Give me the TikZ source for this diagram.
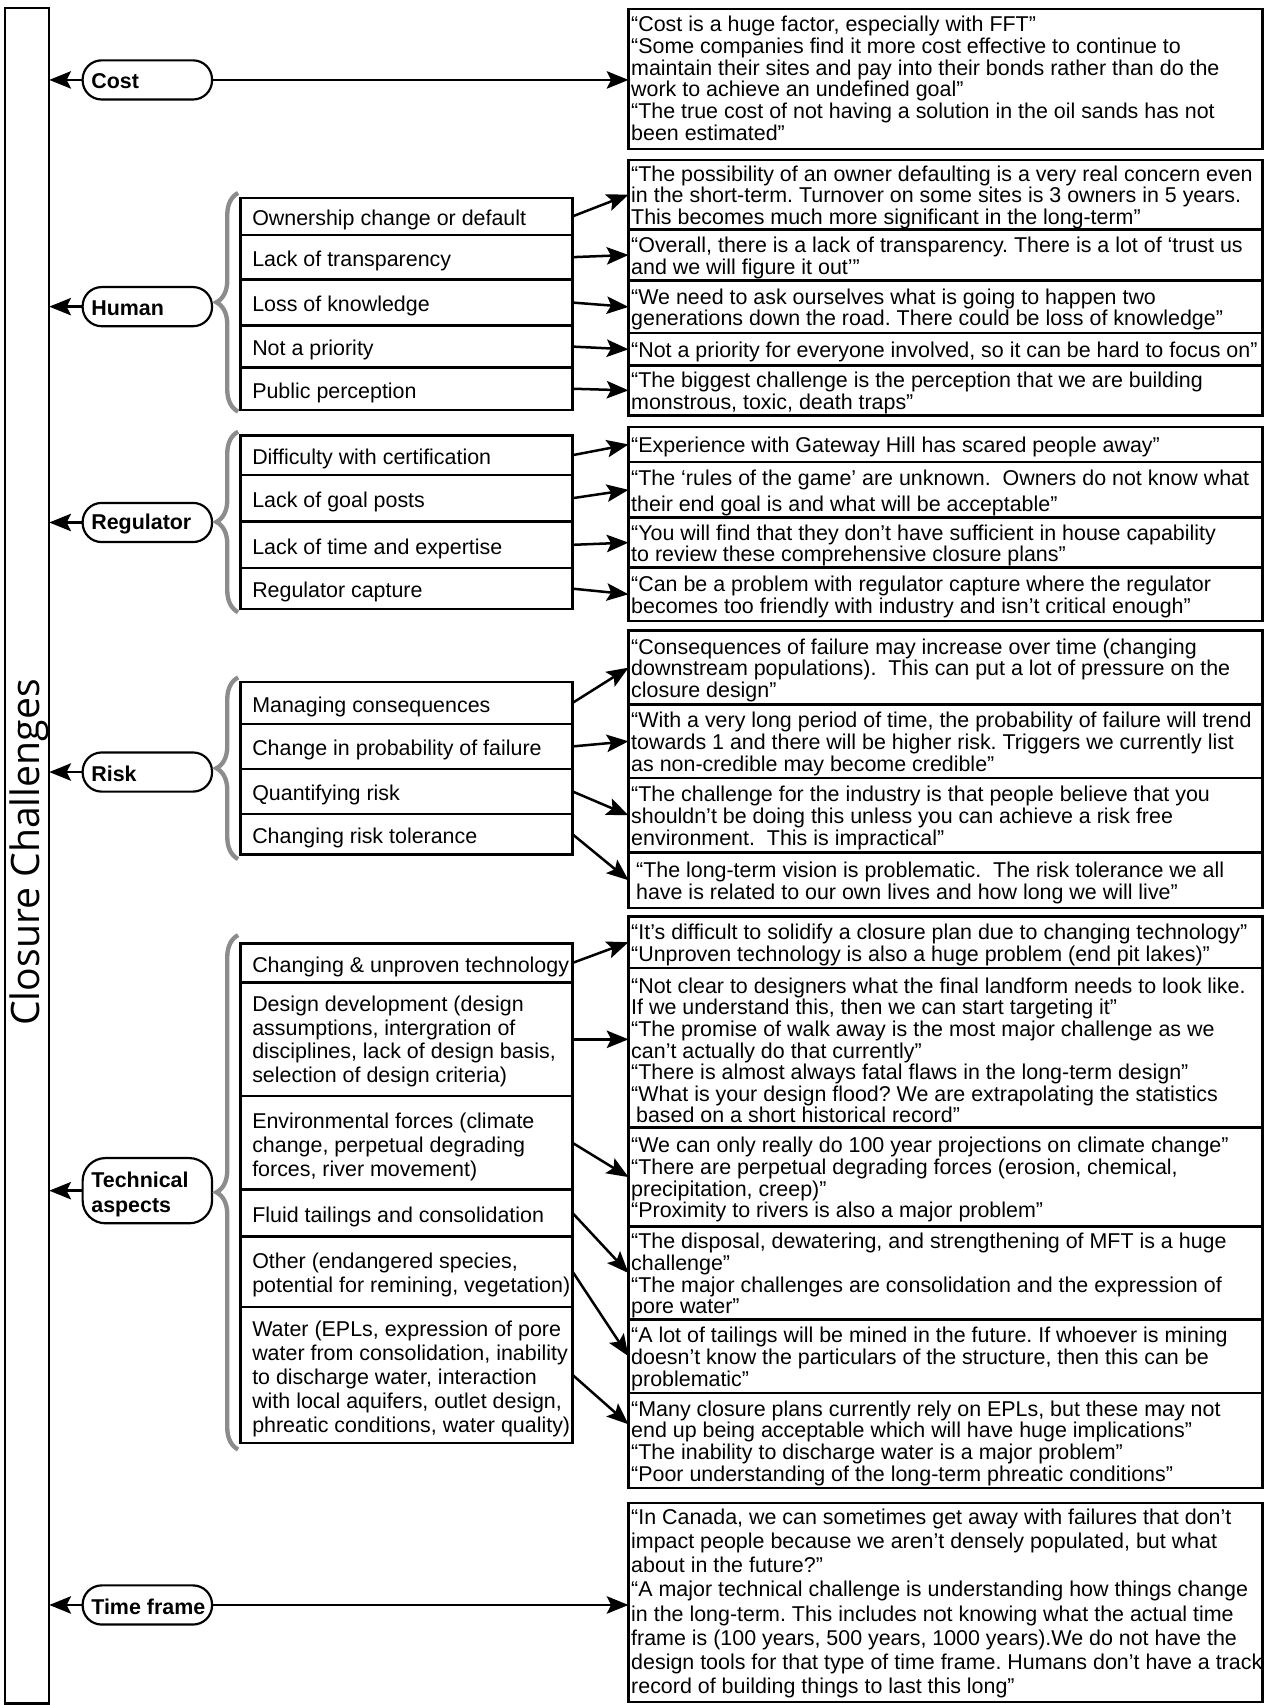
\documentclass[tikz,border=0pt]{standalone}
\usepackage{fontspec}
\setmainfont{Liberation Sans}
\newfontfamily\titlefont{Open Sans}
\usetikzlibrary{arrows.meta,decorations.pathreplacing,calc}
\definecolor{bracegray}{RGB}{140,140,140}
\begin{document}
\frenchspacing
\begin{tikzpicture}[x=1pt,y=-1pt,
  every node/.style={inner sep=0pt, outer sep=0pt},
  txt/.style={font=\fontsize{19.7}{19.9}\selectfont\frenchspacing, align=left, anchor=west, yshift=-2.5pt},
  subtxt/.style={font=\fontsize{19.7}{22}\selectfont\frenchspacing, align=left, anchor=west, yshift=-3.5pt},
  sub/.style={draw, line width=2.2pt, minimum width=305.5pt, anchor=north west},
  quo/.style={draw, line width=2.2pt, minimum width=583pt, anchor=north west},
  pill/.style={draw, line width=2pt, rounded corners=17.5pt, minimum width=119pt, minimum height=36pt, anchor=west},
  ptxt/.style={font=\fontsize{19.7}{23}\selectfont\bfseries, align=left, anchor=west, yshift=-1.5pt},
  conn/.style={line width=2.3pt, -{Stealth[length=20pt,width=16pt,inset=4pt]}},
  brc/.style={draw=bracegray, line width=4pt, decorate, decoration={brace, amplitude=20pt}},
]
\useasboundingbox (0,0) rectangle (1163,1568);

% left bar
\node[draw, line width=2pt, minimum width=41pt, minimum height=1559pt, anchor=north west] (bar) at (4.3,7.6) {};
\node[font=\titlefont\fontsize{36}{36}\selectfont, rotate=90, anchor=base] (title) at (36.5,784) {Closure Challenges};

% ---------------- Cost
\node[pill] (cost) at (76,73.5) {};
\node[ptxt] (costt) at ([xshift=8pt]cost.west) {Cost};
\node[quo, minimum height=129pt] (qc) at (578,8) {};
\node[txt, yshift=3pt] (qct) at ([xshift=2.5pt]qc.west) {“Cost is a huge factor, especially with FFT”\\“Some companies find it more cost effective to continue to\\maintain their sites and pay into their bonds rather than do the\\work to achieve an undefined goal”\\“The true cost of not having a solution in the oil sands has not\\been estimated”};
\draw[conn] (cost.west) -- (cost.west -| bar.east);
\draw[conn] (cost.east) -- (cost.east -| qc.west);

% ---------------- Human
\node[pill] (hum) at (76,282) {};
\node[ptxt] (humt) at ([xshift=8pt]hum.west) {Human};
\draw[conn] (hum.west) -- (hum.west -| bar.east);
\node[sub, minimum height=34pt] (h1) at (221,182) {};
\node[sub, minimum height=41pt] (h2) at (221,216) {};
\node[sub, minimum height=42.5pt] (h3) at (221,257) {};
\node[sub, minimum height=38.5pt] (h4) at (221,299.5) {};
\node[sub, minimum height=39pt] (h5) at (221,338) {};
\node[subtxt] (h1t) at ([xshift=11pt]h1.west) {Ownership change or default};
\node[subtxt] (h2t) at ([xshift=11pt]h2.west) {Lack of transparency};
\node[subtxt] (h3t) at ([xshift=11pt]h3.west) {Loss of knowledge};
\node[subtxt] (h4t) at ([xshift=11pt]h4.west) {Not a priority};
\node[subtxt] (h5t) at ([xshift=11pt]h5.west) {Public perception};
\draw[brc] (219,378.5) -- (219,177.5);
\node[quo, minimum height=64pt] (qh1) at (578,147) {};
\node[quo, minimum height=47pt] (qh2) at (578,211) {};
\node[quo, minimum height=48.5pt] (qh3) at (578,258) {};
\node[quo, minimum height=29.5pt] (qh4) at (578,306.5) {};
\node[quo, minimum height=46pt] (qh5) at (578,336) {};
\node[txt] (qh1t) at ([xshift=2.5pt]qh1.west) {“The possibility of an owner defaulting is a very real concern even\\in the short-term. Turnover on some sites is 3 owners in 5 years.\\This becomes much more significant in the long-term”};
\node[txt] (qh2t) at ([xshift=2.5pt]qh2.west) {“Overall, there is a lack of transparency. There is a lot of ‘trust us\\and we will figure it out’”};
\node[txt] (qh3t) at ([xshift=2.5pt]qh3.west) {“We need to ask ourselves what is going to happen two\\generations down the road. There could be loss of knowledge”};
\node[txt] (qh4t) at ([xshift=2.5pt]qh4.west) {“Not a priority for everyone involved, so it can be hard to focus on”};
\node[txt] (qh5t) at ([xshift=2.5pt]qh5.west) {“The biggest challenge is the perception that we are building\\monstrous, toxic, death traps”};
\draw[conn] (h1.east) -- (qh1.west);
\draw[conn] (h2.east) -- (qh2.west);
\draw[conn] (h3.east) -- (qh3.west);
\draw[conn] (h4.east) -- (qh4.west);
\draw[conn] (h5.east) -- (qh5.west);

% ---------------- Regulator
\node[pill] (reg) at (76,480.5) {};
\node[ptxt] (regt) at ([xshift=8pt]reg.west) {Regulator};
\draw[conn] (reg.west) -- (reg.west -| bar.east);
\node[sub, minimum height=36.2pt] (r1) at (221,400.5) {};
\node[sub, minimum height=42.9pt] (r2) at (221,436.7) {};
\node[sub, minimum height=42.9pt] (r3) at (221,479.6) {};
\node[sub, minimum height=37.7pt] (r4) at (221,522.5) {};
\node[subtxt] (r1t) at ([xshift=11pt]r1.west) {Difficulty with certification};
\node[subtxt] (r2t) at ([xshift=11pt]r2.west) {Lack of goal posts};
\node[subtxt] (r3t) at ([xshift=11pt]r3.west) {Lack of time and expertise};
\node[subtxt] (r4t) at ([xshift=11pt]r4.west) {Regulator capture};
\draw[brc] (219,563) -- (219,397);
\node[quo, minimum height=32.5pt] (qr1) at (578,392.5) {};
\node[quo, minimum height=51pt] (qr2) at (578,425) {};
\node[quo, minimum height=46pt] (qr3) at (578,476) {};
\node[quo, minimum height=49pt] (qr4) at (578,522) {};
\node[txt] (qr1t) at ([xshift=2.5pt]qr1.west) {“Experience with Gateway Hill has scared people away”};
\node[txt, font=\fontsize{19.7}{24}\selectfont\frenchspacing] (qr2t) at ([xshift=2.5pt]qr2.west) {“The ‘rules of the game’ are unknown.\ \ Owners do not know what\\their end goal is and what will be acceptable”};
\node[txt] (qr3t) at ([xshift=2.5pt]qr3.west) {“You will find that they don’t have sufficient in house capability\\to review these comprehensive closure plans”};
\node[txt] (qr4t) at ([xshift=2.5pt]qr4.west) {“Can be a problem with regulator capture where the regulator\\becomes too friendly with industry and isn’t critical enough”};
\draw[conn] (r1.east) -- (qr1.west);
\draw[conn] (r2.east) -- (qr2.west);
\draw[conn] (r3.east) -- (qr3.west);
\draw[conn] (r4.east) -- (qr4.west);

% ---------------- Risk
\node[pill] (risk) at (76,710) {};
\node[ptxt] (riskt) at ([xshift=8pt]risk.west) {Risk};
\draw[conn] (risk.west) -- (risk.west -| bar.east);
\node[sub, minimum height=38.3pt] (k1) at (221,627.3) {};
\node[sub, minimum height=41.7pt] (k2) at (221,665.6) {};
\node[sub, minimum height=41.1pt] (k3) at (221,707.3) {};
\node[sub, minimum height=37.6pt] (k4) at (221,748.4) {};
\node[subtxt] (k1t) at ([xshift=11pt]k1.west) {Managing consequences};
\node[subtxt] (k2t) at ([xshift=11pt]k2.west) {Change in probability of failure};
\node[subtxt] (k3t) at ([xshift=11pt]k3.west) {Quantifying risk};
\node[subtxt] (k4t) at ([xshift=11pt]k4.west) {Changing risk tolerance};
\draw[brc] (219,790) -- (219,623);
\node[quo, minimum height=68pt] (qk1) at (578,580) {};
\node[quo, minimum height=67.5pt] (qk2) at (578,648) {};
\node[quo, minimum height=68.5pt] (qk3) at (578,715.5) {};
\node[quo, minimum height=51pt] (qk4) at (578,784) {};
\node[txt] (qk1t) at ([xshift=2.5pt]qk1.west) {“Consequences of failure may increase over time (changing\\downstream populations).\ \ This can put a lot of pressure on the\\closure design”};
\node[txt] (qk2t) at ([xshift=2.5pt]qk2.west) {“With a very long period of time, the probability of failure will trend\\towards 1 and there will be higher risk. Triggers we currently list\\as non-credible may become credible”};
\node[txt] (qk3t) at ([xshift=2.5pt]qk3.west) {“The challenge for the industry is that people believe that you\\shouldn’t be doing this unless you can achieve a risk free\\environment.\ \ This is impractical”};
\node[txt] (qk4t) at ([xshift=7pt]qk4.west) {“The long-term vision is problematic.\ \ The risk tolerance we all\\have is related to our own lives and how long we will live”};
\draw[conn] (k1.east) -- (qk1.west);
\draw[conn] (k2.east) -- (qk2.west);
\draw[conn] (k3.east) -- (qk3.west);
\draw[conn] (k4.east) -- (qk4.west);

% ---------------- Technical aspects
\node[pill, minimum height=60pt, rounded corners=21pt] (tech) at (76,1095) {};
\node[ptxt, yshift=-2pt] (techt) at ([xshift=8pt]tech.west) {Technical\\aspects};
\draw[conn] (tech.west) -- (tech.west -| bar.east);
\node[sub, minimum height=36.1pt] (t1) at (221,867.5) {};
\node[sub, minimum height=104.4pt] (t2) at (221,903.6) {};
\node[sub, minimum height=86pt] (t3) at (221,1008) {};
\node[sub, minimum height=43pt] (t4) at (221,1094) {};
\node[sub, minimum height=64.7pt] (t5) at (221,1137) {};
\node[sub, minimum height=125.3pt] (t6) at (221,1201.7) {};
\node[subtxt] (t1t) at ([xshift=11pt]t1.west) {Changing \& unproven technology};
\node[subtxt, yshift=1.5pt] (t2t) at ([xshift=11pt]t2.west) {Design development (design\\assumptions, intergration of\\disciplines, lack of design basis,\\selection of design criteria)};
\node[subtxt] (t3t) at ([xshift=11pt]t3.west) {Environmental forces (climate\\change, perpetual degrading\\forces, river movement)};
\node[subtxt] (t4t) at ([xshift=11pt]t4.west) {Fluid tailings and consolidation};
\node[subtxt] (t5t) at ([xshift=11pt]t5.west) {Other (endangered species,\\potential for remining, vegetation)};
\node[subtxt] (t6t) at ([xshift=11pt]t6.west) {Water (EPLs, expression of pore\\water from consolidation, inability\\to discharge water, interaction\\with local aquifers, outlet design,\\phreatic conditions, water quality)};
\draw[brc] (219,1333) -- (219,860);
\node[quo, minimum height=47pt] (qt1) at (578,843) {};
\node[quo, minimum height=147pt] (qt2) at (578,890) {};
\node[quo, minimum height=91pt] (qt3) at (578,1037) {};
\node[quo, minimum height=85.5pt] (qt4) at (578,1128) {};
\node[quo, minimum height=67.5pt] (qt5) at (578,1213.5) {};
\node[quo, minimum height=87.5pt] (qt6) at (578,1281) {};
\node[txt] (qt1t) at ([xshift=2.5pt]qt1.west) {“It’s difficult to solidify a closure plan due to changing technology”\\“Unproven technology is also a huge problem (end pit lakes)”};
\node[txt] (qt2t) at ([xshift=2.5pt]qt2.west) {“Not clear to designers what the final landform needs to look like.\\If we understand this, then we can start targeting it”\\“The promise of walk away is the most major challenge as we\\can’t actually do that currently”\\“There is almost always fatal flaws in the long-term design”\\“What is your design flood? We are extrapolating the statistics\\\hspace*{4.5pt}based on a short historical record”};
\node[txt] (qt3t) at ([xshift=2.5pt]qt3.west) {“We can only really do 100 year projections on climate change”\\“There are perpetual degrading forces (erosion, chemical,\\precipitation, creep)”\\“Proximity to rivers is also a major problem”};
\node[txt] (qt4t) at ([xshift=2.5pt]qt4.west) {“The disposal, dewatering, and strengthening of MFT is a huge\\challenge”\\“The major challenges are consolidation and the expression of\\pore water”};
\node[txt] (qt5t) at ([xshift=2.5pt]qt5.west) {“A lot of tailings will be mined in the future. If whoever is mining\\doesn’t know the particulars of the structure, then this can be\\problematic”};
\node[txt] (qt6t) at ([xshift=2.5pt]qt6.west) {“Many closure plans currently rely on EPLs, but these may not\\end up being acceptable which will have huge implications”\\“The inability to discharge water is a major problem”\\“Poor understanding of the long-term phreatic conditions”};
\draw[conn] (t1.east) -- (qt1.west);
\draw[conn] (t2.east) -- (t2.east -| qt2.west);
\draw[conn] (t3.east) -- (qt3.west);
\draw[conn] (t4.east) -- (qt4.west);
\draw[conn] (t5.east) -- (qt5.west);
\draw[conn] (t6.east) -- ($(qt6.north west)!0.33!(qt6.south west)$);

% ---------------- Time frame
\node[pill] (tf) at (76,1476) {};
\node[ptxt] (tft) at ([xshift=8pt]tf.west) {Time~frame};
\draw[conn] (tf.west) -- (tf.west -| bar.east);
\node[quo, minimum height=183pt] (qf) at (578,1382) {};
\node[txt, yshift=1.5pt, font=\fontsize{19.7}{22.3}\selectfont\frenchspacing] (qft) at ([xshift=2.5pt]qf.west) {“In Canada, we can sometimes get away with failures that don’t\\impact people because we aren’t densely populated, but what\\about in the future?”\\“A major technical challenge is understanding how things change\\in the long-term. This includes not knowing what the actual time\\frame is (100 years, 500 years, 1000 years).We do not have the\\design tools for that type of time frame. Humans don’t have a track\\record of building things to last this long”};
\draw[conn] (tf.east) -- (tf.east -| qf.west);
\end{tikzpicture}
\end{document}
